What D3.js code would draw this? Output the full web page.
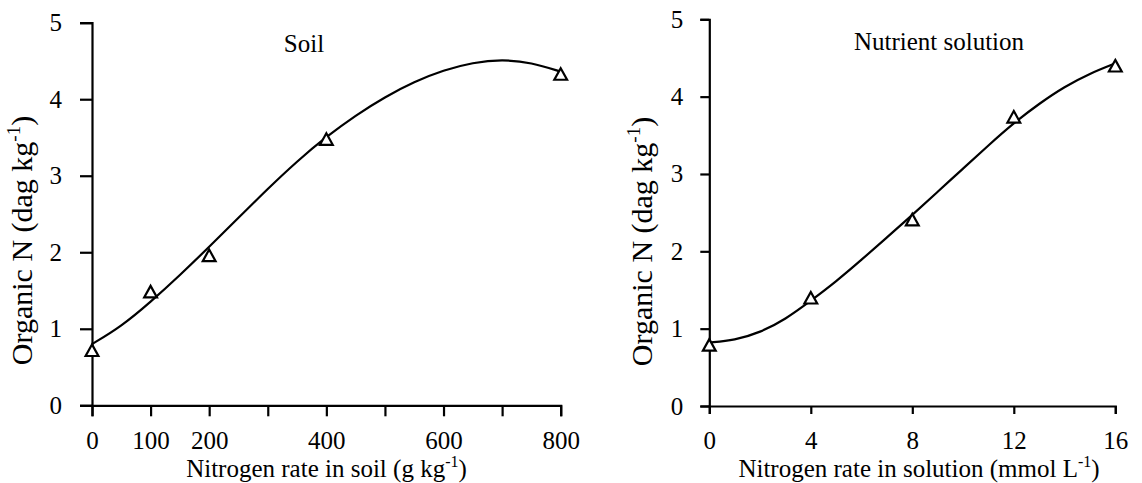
<!DOCTYPE html>
<html><head><meta charset="utf-8">
<script src="https://cdn.jsdelivr.net/npm/d3@7"></script>
<style>
html,body{margin:0;padding:0;background:#fff;}
svg{display:block;font-family:"Liberation Serif","Times New Roman",serif;}
</style></head>
<body>
<svg id="c" width="1142" height="483"></svg>
<script>
// ---- data ----
const soilRates = [0, 100, 200, 400, 800];
const soilOrganicN = [0.72, 1.485, 1.96, 3.48, 4.33];
const soilCurveX = [0, 50, 100, 150, 200, 250, 300, 350, 400, 450, 500, 550, 600, 650, 700, 750, 800];
const soilCurveY = [0.80, 1.03, 1.35, 1.70, 2.07, 2.45, 2.83, 3.19, 3.51, 3.79, 4.03, 4.23, 4.38, 4.48, 4.52, 4.48, 4.36];
const soilXTicks = [0, 100, 200, 300, 400, 500, 600, 700, 800];
const soilXLabels = ["0", "100", "200", "", "400", "", "600", "", "800"];

const solRates = [0, 4, 8, 12, 16];
const solOrganicN = [0.79, 1.40, 2.41, 3.74, 4.40];
const solCurveX = [0, 1, 2, 3, 4, 5, 6, 7, 8, 9, 10, 11, 12, 13, 14, 15, 16];
const solCurveY = [0.82, 0.85, 0.95, 1.12, 1.36, 1.61, 1.89, 2.18, 2.47, 2.77, 3.07, 3.37, 3.66, 3.91, 4.13, 4.30, 4.43];
const solXTicks = [0, 4, 8, 12, 16];
const yTicks = [0, 1, 2, 3, 4, 5];

const svg = d3.select("#c");

function panel(o) {
  const g = svg.append("g");
  const x = d3.scaleLinear().domain(o.xDomain).range(o.xRange);
  const y = d3.scaleLinear().domain([0, 5]).range(o.yRange);

  const xa = d3.axisBottom(x).tickValues(o.xTicks).tickSizeOuter(0)
    .tickSize(o.xTickSize).tickPadding(o.xTickPad)
    .tickFormat((d, i) => o.xLabels ? o.xLabels[i] : String(d));
  const ya = d3.axisLeft(y).tickValues(yTicks).tickSizeOuter(0)
    .tickSize(o.yTickSize).tickPadding(o.yTickPad).tickFormat(d3.format("d"));

  const gx = g.append("g").attr("transform", `translate(0,${y(0)})`).call(xa);
  const gy = g.append("g").attr("transform", `translate(${x(0)},0)`).call(ya);
  [gx, gy].forEach(a => {
    a.selectAll("path.domain").attr("stroke", "#000").attr("stroke-width", 2.2);
    a.selectAll(".tick line").attr("stroke", "#000").attr("stroke-width", 2.2);
    a.selectAll(".tick text").attr("fill", "#000").style("font-size", "25px")
      .style("font-family", '"Liberation Serif","Times New Roman",serif');
  });

  const line = d3.line().x(d => x(d[0])).y(d => y(d[1])).curve(d3.curveBasis);
  g.append("path").datum(o.curveX.map((v, i) => [v, o.curveY[i]]))
    .attr("d", line).attr("fill", "none").attr("stroke", "#000").attr("stroke-width", 2.2);

  g.selectAll("path.pt").data(o.px.map((v, i) => [v, o.py[i]])).join("path")
    .attr("class", "pt")
    .attr("transform", d => `translate(${x(d[0])},${y(d[1])})`)
    .attr("d", "M0,-5.8L6.4,5.8L-6.4,5.8Z")
    .attr("fill", "#fff").attr("stroke", "#000").attr("stroke-width", 2.2);

  // panel title
  g.append("text").attr("x", o.titleX).attr("y", o.titleY).attr("text-anchor", "middle")
    .style("font-size", "25px").text(o.title);

  // x axis title
  const xt = g.append("text").attr("x", o.xTitleX).attr("y", 476.5).attr("text-anchor", "middle")
    .style("font-size", "25px");
  xt.append("tspan").text(o.xTitle);
  xt.append("tspan").attr("dy", -10).style("font-size", "16px").text("-1");
  xt.append("tspan").attr("dy", 10).text(")");

  // y axis title
  const yt = g.append("text").attr("transform", `translate(${o.yTitleX},${o.yTitleY}) rotate(-90)`)
    .attr("text-anchor", "middle").style("font-size", "30px");
  yt.append("tspan").text("Organic N (dag kg");
  yt.append("tspan").attr("dy", -12).style("font-size", "19px").text("-1");
  yt.append("tspan").attr("dy", 12).text(")");
}

panel({
  xDomain: [0, 800], xRange: [92, 560.7], yRange: [405.3, 22.7],
  xTicks: soilXTicks, xLabels: soilXLabels,
  xTickSize: 11, xTickPad: 15, yTickSize: 12, yTickPad: 18,
  curveX: soilCurveX, curveY: soilCurveY, px: soilRates, py: soilOrganicN,
  title: "Soil", titleX: 304, titleY: 52,
  xTitle: "Nitrogen rate in soil (g kg", xTitleX: 326.5,
  yTitleX: 32, yTitleY: 240.5
});
panel({
  xDomain: [0, 16], xRange: [709.3, 1115.3], yRange: [406, 19.3],
  xTicks: solXTicks, xLabels: null,
  xTickSize: 8, xTickPad: 17, yTickSize: 9, yTickPad: 17,
  curveX: solCurveX, curveY: solCurveY, px: solRates, py: solOrganicN,
  title: "Nutrient solution", titleX: 939, titleY: 50,
  xTitle: "Nitrogen rate in solution (mmol L", xTitleX: 919,
  yTitleX: 652, yTitleY: 241.5
});
</script>
</body></html>
